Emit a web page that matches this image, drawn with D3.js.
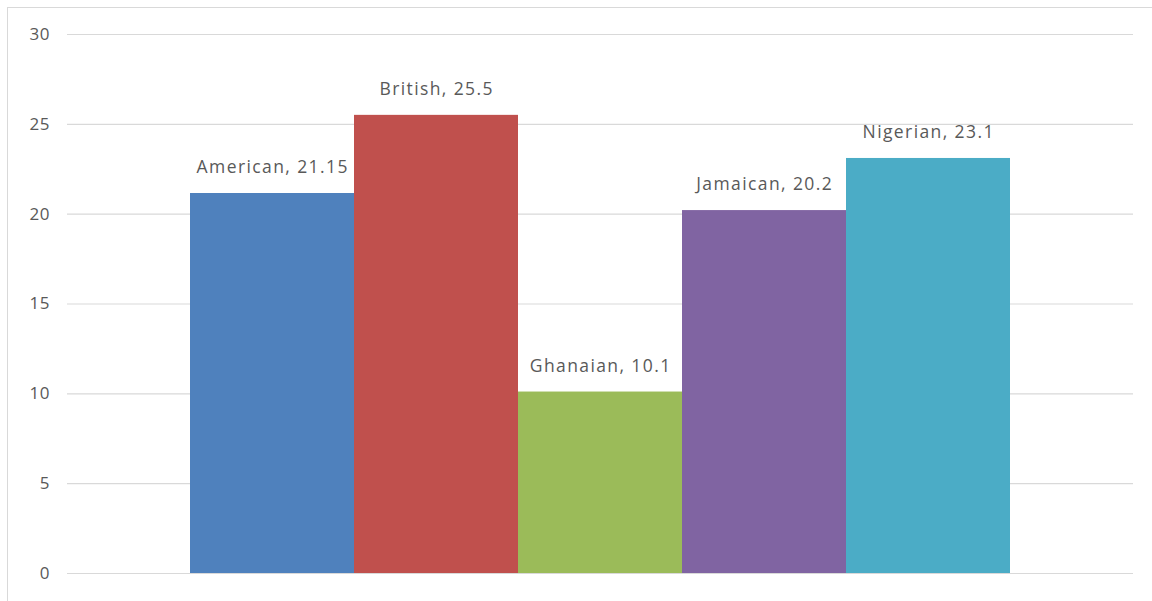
<!DOCTYPE html>
<html>
<head>
<meta charset="utf-8">
<script src="https://cdn.jsdelivr.net/npm/d3@7"></script>
<style>
  body { margin: 0; background: #fff; }
  svg { display: block; font-family: "Open Sans", sans-serif; }
</style>
</head>
<body>
<svg id="chart"></svg>
<script>
// data
var names = ["American", "British", "Ghanaian", "Jamaican", "Nigerian"];
var values = [21.15, 25.5, 10.1, 20.2, 23.1];
var colors = ["#4F81BD", "#C0504D", "#9BBB59", "#8064A2", "#4BACC6"];
var yTicks = [0, 5, 10, 15, 20, 25, 30];

var width = 1152, height = 601;
var svg = d3.select('#chart').attr('width', width).attr('height', height);

// chart area border
svg.append('rect')
  .attr('x', 7.5).attr('y', 7.5)
  .attr('width', 1170).attr('height', 620)
  .attr('fill', 'none')
  .attr('stroke', '#d9d9d9');

var plotLeft = 67, plotRight = 1133;

var y = d3.scaleLinear().domain([0, 30]).range([573, 34]);

// bars sit in the middle of the single category, gap 150% of a bar
var barW = (plotRight - plotLeft) / (names.length + 1.5);
var gap = barW * 1.5;
var x = d3.scaleBand()
  .domain(names)
  .range([plotLeft + gap / 2, plotRight - gap / 2])
  .padding(0);

// gridlines + tick labels
var yAxis = d3.axisLeft(y)
  .tickValues(yTicks)
  .tickSize(-(plotRight - plotLeft))
  .tickPadding(17);

var ax = svg.append('g')
  .attr('transform', `translate(${plotLeft},0)`)
  .call(yAxis);
ax.select('.domain').remove();
ax.selectAll('.tick line').attr('stroke', '#d9d9d9').attr('stroke-width', 1.2);
ax.selectAll('.tick text')
  .attr('fill', '#595959')
  .style('font-size', '17px')
  .style('letter-spacing', '0.5px')
  .style('font-family', '"Open Sans", sans-serif');

var data = names.map(function(n, i) { return { name: n, value: values[i], color: colors[i] }; });

svg.append('g').selectAll('rect')
  .data(data)
  .enter()
  .append('rect')
    .attr('x', d => x(d.name))
    .attr('width', x.bandwidth())
    .attr('y', d => y(d.value))
    .attr('height', d => y(0) - y(d.value))
    .attr('fill', d => d.color);

svg.append('g').selectAll('text')
  .data(data)
  .enter()
  .append('text')
    .attr('x', d => x(d.name) + x.bandwidth() / 2 + 0.7)
    .attr('y', d => y(d.value) - 20)
    .attr('text-anchor', 'middle')
    .attr('fill', '#595959')
    .style('font-size', '17.5px')
    .style('letter-spacing', '1.4px')
    .text(d => d.name + ', ' + d.value);
</script>
</body>
</html>
